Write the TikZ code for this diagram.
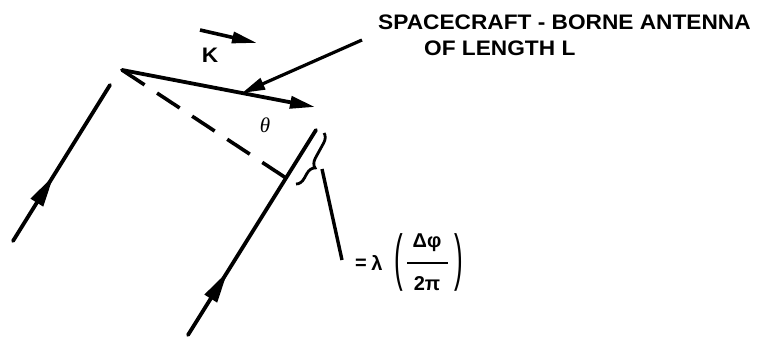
\documentclass[tikz,border=0pt]{standalone}
\usepackage{graphicx}
\usepackage{fontspec}
\newfontfamily\lab{Liberation Sans}[FakeStretch=1.08]
\newfontfamily\labn{Liberation Sans}
\newfontfamily\serifg{Liberation Serif}
\usetikzlibrary{arrows.meta,decorations.markings,decorations.pathreplacing}
\begin{document}
\begin{tikzpicture}[x=1pt,y=-1pt,
  ray/.style={line width=3.8pt,line cap=round},
  headtip/.style={-{Triangle[length=25pt,width=12pt]}},
  midhead/.style={postaction={decorate},decoration={markings,
     mark=at position #1 with {\arrow{Triangle[length=32pt,width=14pt]}}}},
  lbl/.style={font=\lab\bfseries\fontsize{21}{25}\selectfont, inner sep=0pt},
  eqf/.style={font=\labn\bfseries\fontsize{20}{24}\selectfont, inner sep=0pt},
  paren/.style={font=\labn\fontsize{20}{24}\selectfont, inner sep=0pt}
]
\useasboundingbox (0,0) rectangle (758,337);
% coordinates
\coordinate (L1) at (13,241);  \coordinate (L2) at (110,85);
\coordinate (R1) at (188,335); \coordinate (R2) at (316,130);
\coordinate (A1) at (122,70);  \coordinate (A2) at (315,107);
\coordinate (D2) at (286,178);
\coordinate (P1) at (362,40);  \coordinate (P2) at (242,93);
\coordinate (K1) at (200,30);  \coordinate (K2) at (257,43);
\coordinate (B1) at (324,133); \coordinate (B2) at (296,184);
\coordinate (Q1) at (322,169); \coordinate (Q2) at (342,260);
\coordinate (F1) at (407,263); \coordinate (F2) at (448,263);
% incoming rays
\draw[ray, midhead=0.42] (L1) -- (L2);
\draw[ray, midhead=0.31] (R1) -- (R2);
% antenna
\draw[ray, headtip] (A1) -- (A2);
% dashed line
\draw[line width=3.6pt, dash pattern=on 27pt off 15pt] (A1) -- (D2);
% leader arrow to antenna
\draw[line width=3.2pt, -{Triangle[length=23pt,width=12pt]}] (P1) -- (P2);
% K vector
\draw[line width=3.6pt, -{Triangle[length=25pt,width=11pt]}] (K1) -- (K2);
% brace
\draw[line width=2.8pt, decorate, decoration={brace, amplitude=9pt, aspect=0.6}] (B1) -- (B2);
% leader to formula
\draw[line width=3.4pt] (Q1) -- (Q2);
% labels
\node[lbl, anchor=west] (t1) at (378,22) {SPACECRAFT - BORNE ANTENNA};
\node[lbl, anchor=west] (t2) at (424,48) {OF LENGTH L};
\node[lbl] (k) at (210,55) {K};
\node[font=\serifg\itshape\fontsize{21}{24}\selectfont, inner sep=0pt] (th) at (265,125) {θ};
% formula
\node[eqf] (eqs) at (361,264) {=};
\node[eqf] (lam) at (377,263) {λ};
\node[paren] (lp) at (399,262) {\scalebox{1.3}[3.1]{(}};
\node[eqf] (num) at (427,243) {Δφ};
\node[eqf] (den) at (427,284) {2π};
\draw[line width=1.6pt] (F1) -- (F2);
\node[paren] (rp) at (459,262) {\scalebox{1.3}[3.1]{)}};
\end{tikzpicture}
\end{document}
